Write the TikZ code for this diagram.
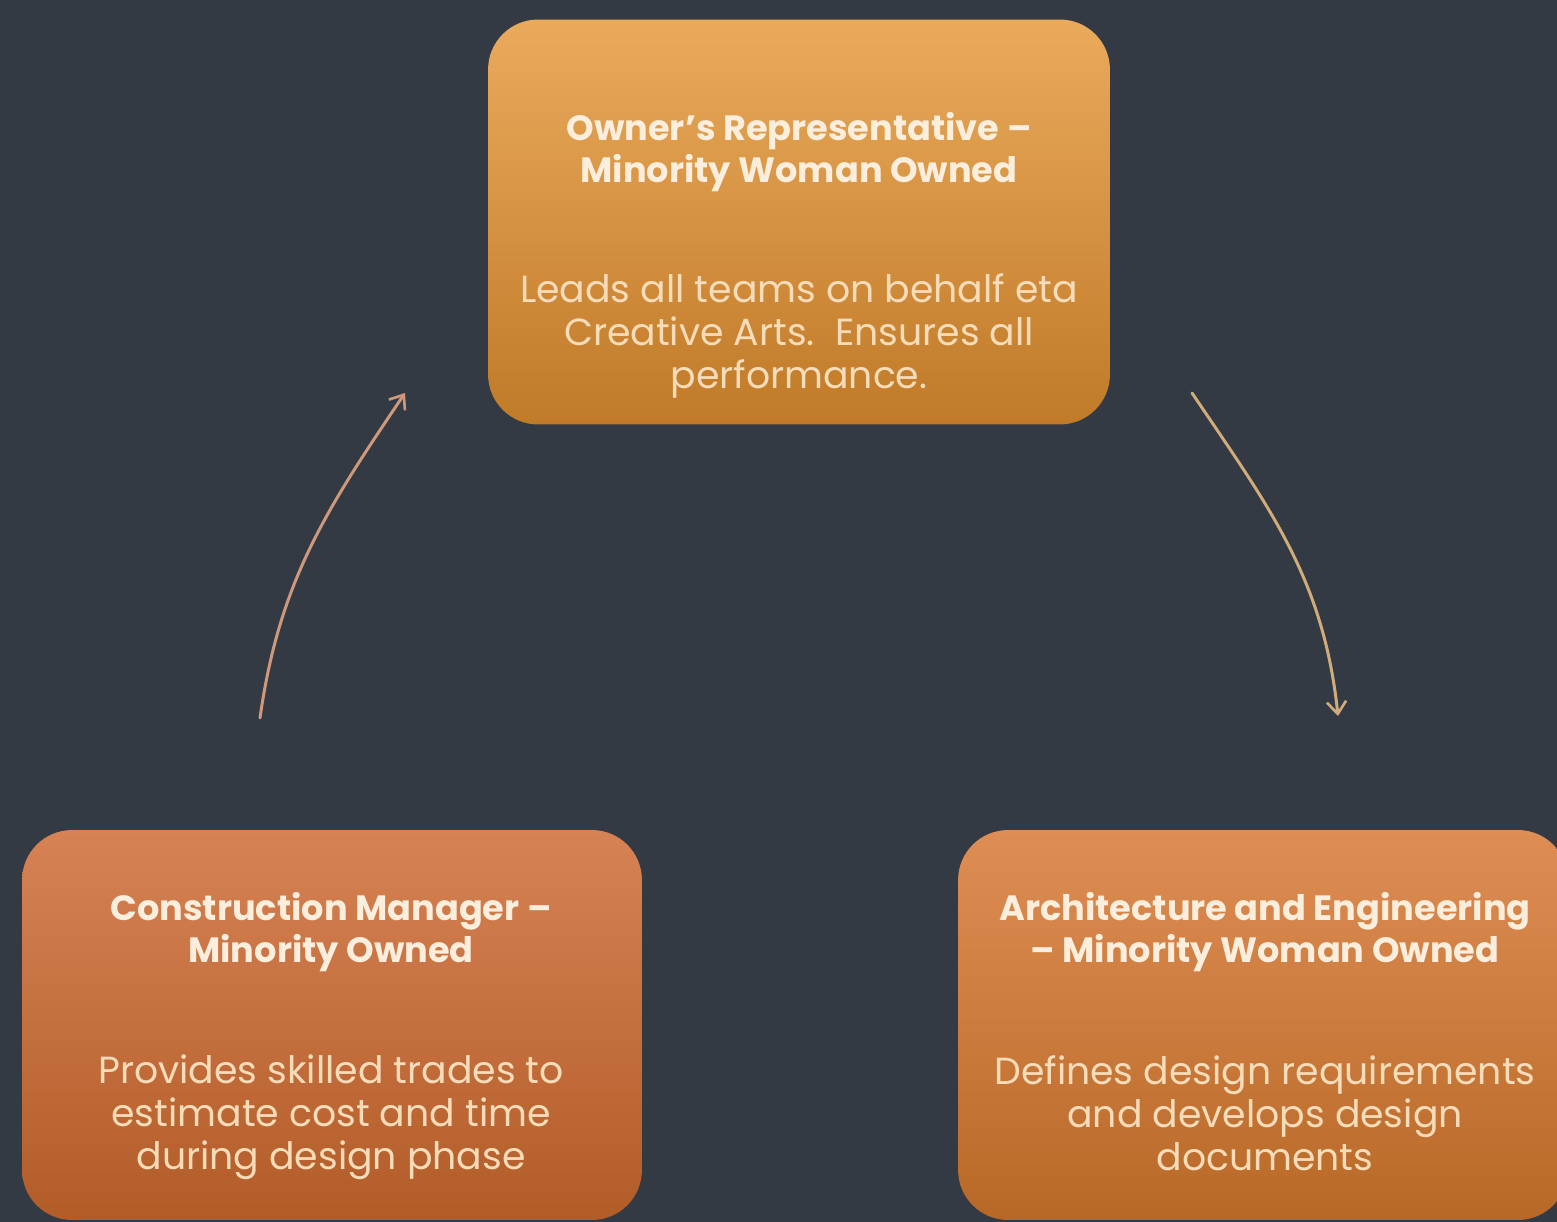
\documentclass[tikz,border=0pt]{standalone}
\usepackage{fontspec}
\setmainfont{Poppins}
\usetikzlibrary{arrows.meta}
\definecolor{bg}{RGB}{51,58,68}
\definecolor{ttop}{RGB}{234,170,92}
\definecolor{tbot}{RGB}{192,122,40}
\definecolor{ltop}{RGB}{214,130,84}
\definecolor{lbot}{RGB}{178,92,40}
\definecolor{rtop}{RGB}{222,142,84}
\definecolor{rbot}{RGB}{184,104,38}
\definecolor{titlecol}{RGB}{252,238,220}
\definecolor{bodycol}{RGB}{247,220,186}
\definecolor{arrowL}{RGB}{206,152,122}
\definecolor{arrowR}{RGB}{208,172,122}
\tikzset{
  card/.style={rounded corners=1cm, draw=none, inner sep=0pt},
  ttl/.style={text=titlecol, align=center, font=\bfseries\fontsize{20}{24}\selectfont, inner sep=0pt},
  bdy/.style={text=bodycol, align=center, font=\fontsize{21.5}{24.5}\selectfont, inner sep=0pt},
  flow/.style={line width=1.7pt, line cap=round, -{Straight Barb[length=7pt,width=11pt,line width=1.5pt]}}
}
\begin{document}
\begin{tikzpicture}[x=0.02cm,y=0.02cm]
\useasboundingbox (0,-1222) rectangle (1557,0);
\fill[bg] (0,-1222) rectangle (1557,0);
\clip (0,-1222) rectangle (1557,0);
% boxes
\node[card, top color=ttop, bottom color=tbot, minimum width=12.44cm, minimum height=8.1cm] (owner) at (799,-222) {};
\node[card, top color=ltop, bottom color=lbot, minimum width=12.4cm, minimum height=7.8cm] (cm) at (332,-1025) {};
\node[card, top color=rtop, bottom color=rbot, minimum width=12.2cm, minimum height=7.8cm] (ae) at (1263,-1025) {};
% texts
\node[ttl] (ownerT) at (799,-152) {Owner’s Representative –\\Minority Woman Owned};
\node[bdy] (ownerB) at (799,-336) {Leads all teams on behalf eta\\Creative Arts.\ \ Ensures all\\performance.};
\node[ttl] (cmT) at (331,-932) {Construction Manager –\\Minority Owned};
\node[bdy] (cmB) at (331,-1117) {Provides skilled trades to\\estimate cost and time\\during design phase};
\node[ttl] (aeT) at (1265,-932) {Architecture and Engineering\\– Minority Woman Owned};
\node[bdy] (aeB) at (1265,-1113) {Defines design requirements\\and develops design\\documents};
% connectors
\coordinate (l1) at (260,-718);
\coordinate (l2) at (405,-393);
\coordinate (r1) at (1192,-393);
\coordinate (r2) at (1338,-716);
\draw[flow, draw=arrowL] (l1) to[out=82, in=236] (l2);
\draw[flow, draw=arrowR] (r1) to[out=-56, in=96] (r2);
\end{tikzpicture}
\end{document}
